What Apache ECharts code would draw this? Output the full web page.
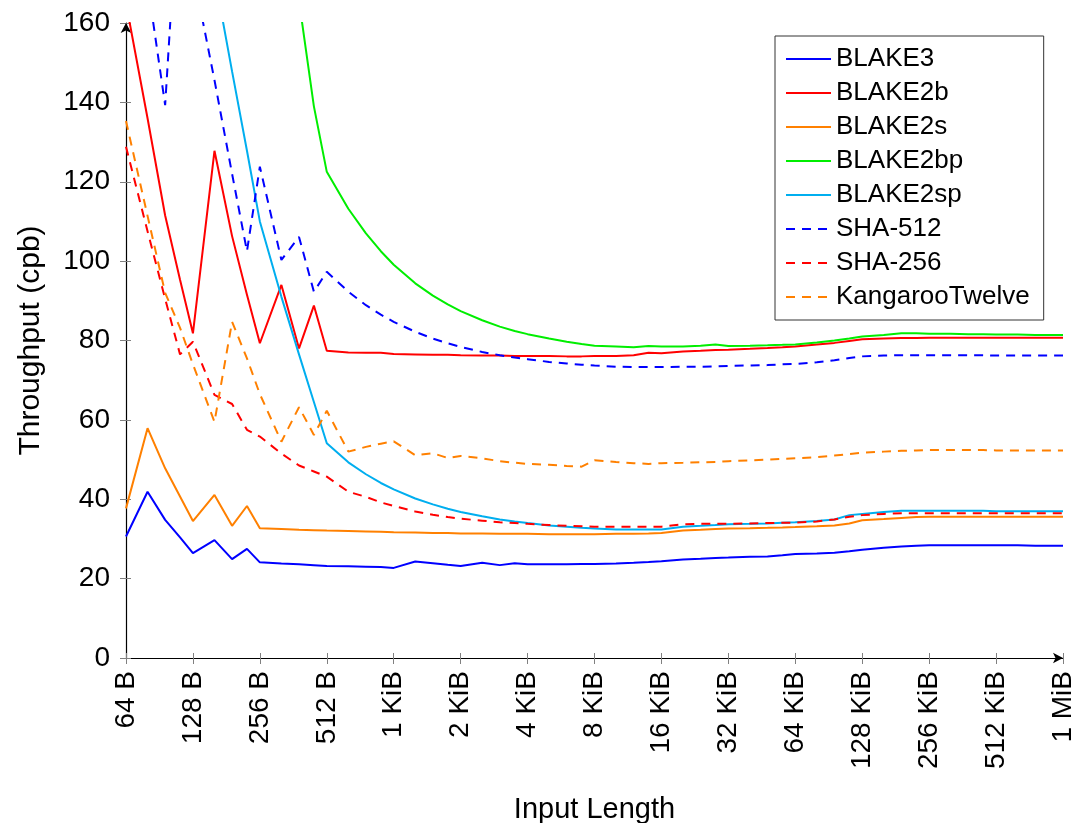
<!DOCTYPE html>
<html><head><meta charset="utf-8">
<script src="https://cdn.jsdelivr.net/npm/echarts@6/dist/echarts.min.js"></script>
<style>html,body{margin:0;padding:0;background:#fff}#c{width:1081px;height:823px}</style>
</head><body><div id="c"></div>
<script>
// Input lengths in bytes (4 samples per octave)
const lengths = [64,80,96,112,128,160,192,224,256,320,384,448,512,640,768,896,
  1024,1280,1536,1792,2048,2560,3072,3584,4096,5120,6144,7168,8192,10240,12288,14336,
  16384,20480,24576,28672,32768,40960,49152,57344,65536,81920,98304,114688,
  131072,163840,196608,229376,262144,327680,393216,458752,524288,655360,786432,917504,1048576];

const xTickLabels = ['64 B','128 B','256 B','512 B','1 KiB','2 KiB','4 KiB','8 KiB','16 KiB','32 KiB','64 KiB','128 KiB','256 KiB','512 KiB','1 MiB'];

const blake3 = [30.6,41.9,34.8,30.4, 26.4,29.7,24.9,27.5, 24.1,23.8,23.6,23.4, 23.2,23.1,23.0,22.9,
  22.7,24.3,23.9,23.5, 23.2,24.0,23.4,23.9, 23.6,23.6,23.6,23.7, 23.7,23.8,24.0,24.2,
  24.4,24.8,25.0,25.2, 25.3,25.5,25.6,25.9, 26.2,26.3,26.5,26.9, 27.3,27.8,28.1,28.3,
  28.4,28.4,28.4,28.4, 28.4,28.4,28.3,28.3, 28.3];
const blake2b = [165,136,111.5,95.3, 81.8,127.8,106.3,91.5, 79.3,94,78,88.8, 77.4,77.0,76.9,76.9,
  76.6,76.5,76.4,76.4, 76.3,76.2,76.2,76.1, 76.1,76.1,76.0,76.0, 76.1,76.1,76.3,76.9,
  76.8,77.2,77.4,77.6, 77.7,77.9,78.1,78.3, 78.5,79.0,79.4,79.9, 80.3,80.5,80.6,80.6,
  80.7,80.7,80.7,80.7, 80.7,80.7,80.7,80.7, 80.7];
const blake2s = [37.7,57.9,47.8,40.7, 34.5,41.1,33.3,38.3, 32.7,32.5,32.3,32.2, 32.1,32.0,31.9,31.8,
  31.7,31.6,31.5,31.5, 31.4,31.4,31.3,31.3, 31.3,31.2,31.2,31.2, 31.2,31.3,31.3,31.4,
  31.5,32.1,32.3,32.5, 32.6,32.7,32.8,32.9, 33.0,33.2,33.4,33.9, 34.7,35.0,35.3,35.5,
  35.6,35.6,35.6,35.6, 35.6,35.6,35.6,35.6, 35.6];
const blake2bp = [600,500,420,370, 330,280,240,210, 195,180,165.6,139, 122.5,113.2,107,102.5,
  99.1,94.4,91.3,89.1, 87.4,85.1,83.5,82.4, 81.6,80.5,79.7,79.1, 78.7,78.5,78.3,78.6,
  78.5,78.5,78.7,79.0, 78.6,78.7,78.8,78.9, 79.0,79.5,80.0,80.5, 81.0,81.4,81.8,81.8,
  81.7,81.7,81.6,81.6, 81.5,81.5,81.4,81.4, 81.4];
const blake2sp = [400,330,280,240, 205,172,147.8,127.8, 110,91,76.5,64.5, 54.1,49.3,46.3,44.1,
  42.5,40.2,38.7,37.6, 36.8,35.7,34.9,34.4, 34.0,33.4,33.1,32.8, 32.6,32.4,32.4,32.4,
  32.4,33.1,33.3,33.5, 33.7,33.8,33.9,34.1, 34.2,34.5,34.9,36.0, 36.3,36.8,37.1,37.1,
  37.1,37.1,37.1,37.1, 37.0,37.0,37.0,37.0, 37.0];
const sha512 = [200,170,139.3,200, 173,145.6,122,102.5, 123.8,100.3,106.1,92.3, 97.3,92.3,88.9,86.5,
  84.7,82.2,80.5,79.3, 78.4,77.1,76.3,75.7, 75.3,74.6,74.2,73.9, 73.7,73.4,73.3,73.3,
  73.3,73.4,73.4,73.5, 73.6,73.7,73.8,74.0, 74.1,74.5,75.0,75.6, 76.0,76.2,76.3,76.3,
  76.3,76.3,76.3,76.3, 76.2,76.2,76.2,76.2, 76.2];
const sha256 = [128.8,107.5,90.5,76.5, 79.7,66.3,64,57.5, 55.8,51.5,48.5,47.0, 45.7,41.9,40.6,39.2,
  38.3,36.9,36.1,35.5, 35.1,34.6,34.2,34.0, 33.8,33.5,33.3,33.2, 33.1,33.1,33.1,33.1,
  33.1,33.7,33.8,33.8, 33.8,33.9,34.0,34.1, 34.1,34.4,34.9,35.6, 36.0,36.3,36.5,36.5,
  36.5,36.5,36.5,36.5, 36.5,36.5,36.5,36.5, 36.5];
const k12 = [135.3,111.4,92,83.2, 74,59.5,84.7,75.5, 66.5,54.5,63.2,56.2, 62.3,52.0,53.2,54.0,
  54.6,51.1,51.6,50.4, 50.9,50.3,49.6,49.2, 48.9,48.7,48.4,48.2, 49.8,49.4,49.1,48.9,
  49.1,49.2,49.3,49.4, 49.6,49.8,50.0,50.2, 50.3,50.6,51.0,51.4, 51.7,52.0,52.2,52.3,
  52.4,52.4,52.4,52.4, 52.3,52.3,52.3,52.3, 52.3];

const seriesNames = ['BLAKE3','BLAKE2b','BLAKE2s','BLAKE2bp','BLAKE2sp','SHA-512','SHA-256','KangarooTwelve'];
const seriesData = [blake3, blake2b, blake2s, blake2bp, blake2sp, sha512, sha256, k12];
const seriesColors = ['#0000ff','#ff0000','#ff8000','#00ee00','#00aeef','#0000ff','#ff0000','#ff8000'];
const seriesDashed = [false,false,false,false,false,true,true,true];

const FONT = '"Liberation Sans", Arial, Helvetica, sans-serif';
const chart = echarts.init(document.getElementById('c'), null, {renderer: 'canvas'});

function toPoints(vals) { return vals.map((v, i) => [Math.log2(lengths[i]), v]); }

const axisFont = {fontFamily: FONT, fontSize: 28, color: '#000'};

const option = {
  animation: false,
  backgroundColor: '#fff',
  grid: {left: 126, right: 18, top: 23, bottom: 165, containLabel: false, outerBoundsMode: 'none'},
  legend: {
    orient: 'vertical', left: 775, top: 36,
    padding: [9, 14, 9, 10],
    itemWidth: 45, itemHeight: 14, itemGap: 6,
    backgroundColor: '#fff', borderColor: '#333', borderWidth: 1, borderRadius: 0,
    itemStyle: {opacity: 0},
    textStyle: {fontFamily: FONT, fontSize: 26, color: '#000', lineHeight: 28},
    data: seriesNames
  },
  xAxis: [{
    type: 'value', min: 6, max: 20, interval: 1, position: 'bottom',
    name: 'Input Length', nameLocation: 'middle', nameGap: 137,
    nameTextStyle: {fontFamily: FONT, fontSize: 29, color: '#000'},
    axisLine: {show: true, onZero: false, lineStyle: {color: '#000', width: 1.2}, symbol: ['none', 'arrow'], symbolSize: [8, 10]},
    axisTick: {show: true, inside: false, length: 6, lineStyle: {color: '#808080', width: 1}},
    axisLabel: Object.assign({rotate: 90, margin: 13, formatter: v => xTickLabels[Math.round(v) - 6]}, axisFont),
    splitLine: {show: false}
  }, {
    type: 'value', min: 6, max: 20, interval: 1, position: 'bottom',
    axisLine: {show: false}, axisLabel: {show: false}, splitLine: {show: false},
    axisTick: {show: true, inside: true, length: 5, lineStyle: {color: '#808080', width: 1}}
  }],
  yAxis: [{
    type: 'value', min: 0, max: 160, interval: 20, position: 'left',
    name: 'Throughput (cpb)', nameLocation: 'middle', nameGap: 80,
    nameTextStyle: {fontFamily: FONT, fontSize: 30, color: '#000'},
    axisLine: {show: true, onZero: false, lineStyle: {color: '#000', width: 1.2}, symbol: ['none', 'arrow'], symbolSize: [8, 10]},
    axisTick: {show: true, inside: false, length: 6, lineStyle: {color: '#808080', width: 1}},
    axisLabel: Object.assign({margin: 16}, axisFont),
    splitLine: {show: false}
  }, {
    type: 'value', min: 0, max: 160, interval: 20, position: 'left',
    axisLine: {show: false}, axisLabel: {show: false}, splitLine: {show: false},
    axisTick: {show: true, inside: true, length: 5, lineStyle: {color: '#808080', width: 1}}
  }],
  series: seriesNames.map((name, i) => ({
    type: 'line', name: name, data: toPoints(seriesData[i]),
    xAxisIndex: 0, yAxisIndex: 0,
    showSymbol: false, symbol: 'none', clip: true,
    lineStyle: {color: seriesColors[i], width: 2, type: seriesDashed[i] ? [9, 7] : 'solid'},
    itemStyle: {color: seriesColors[i]},
    emphasis: {disabled: true}
  }))
};
chart.setOption(option);
</script>
</body></html>
